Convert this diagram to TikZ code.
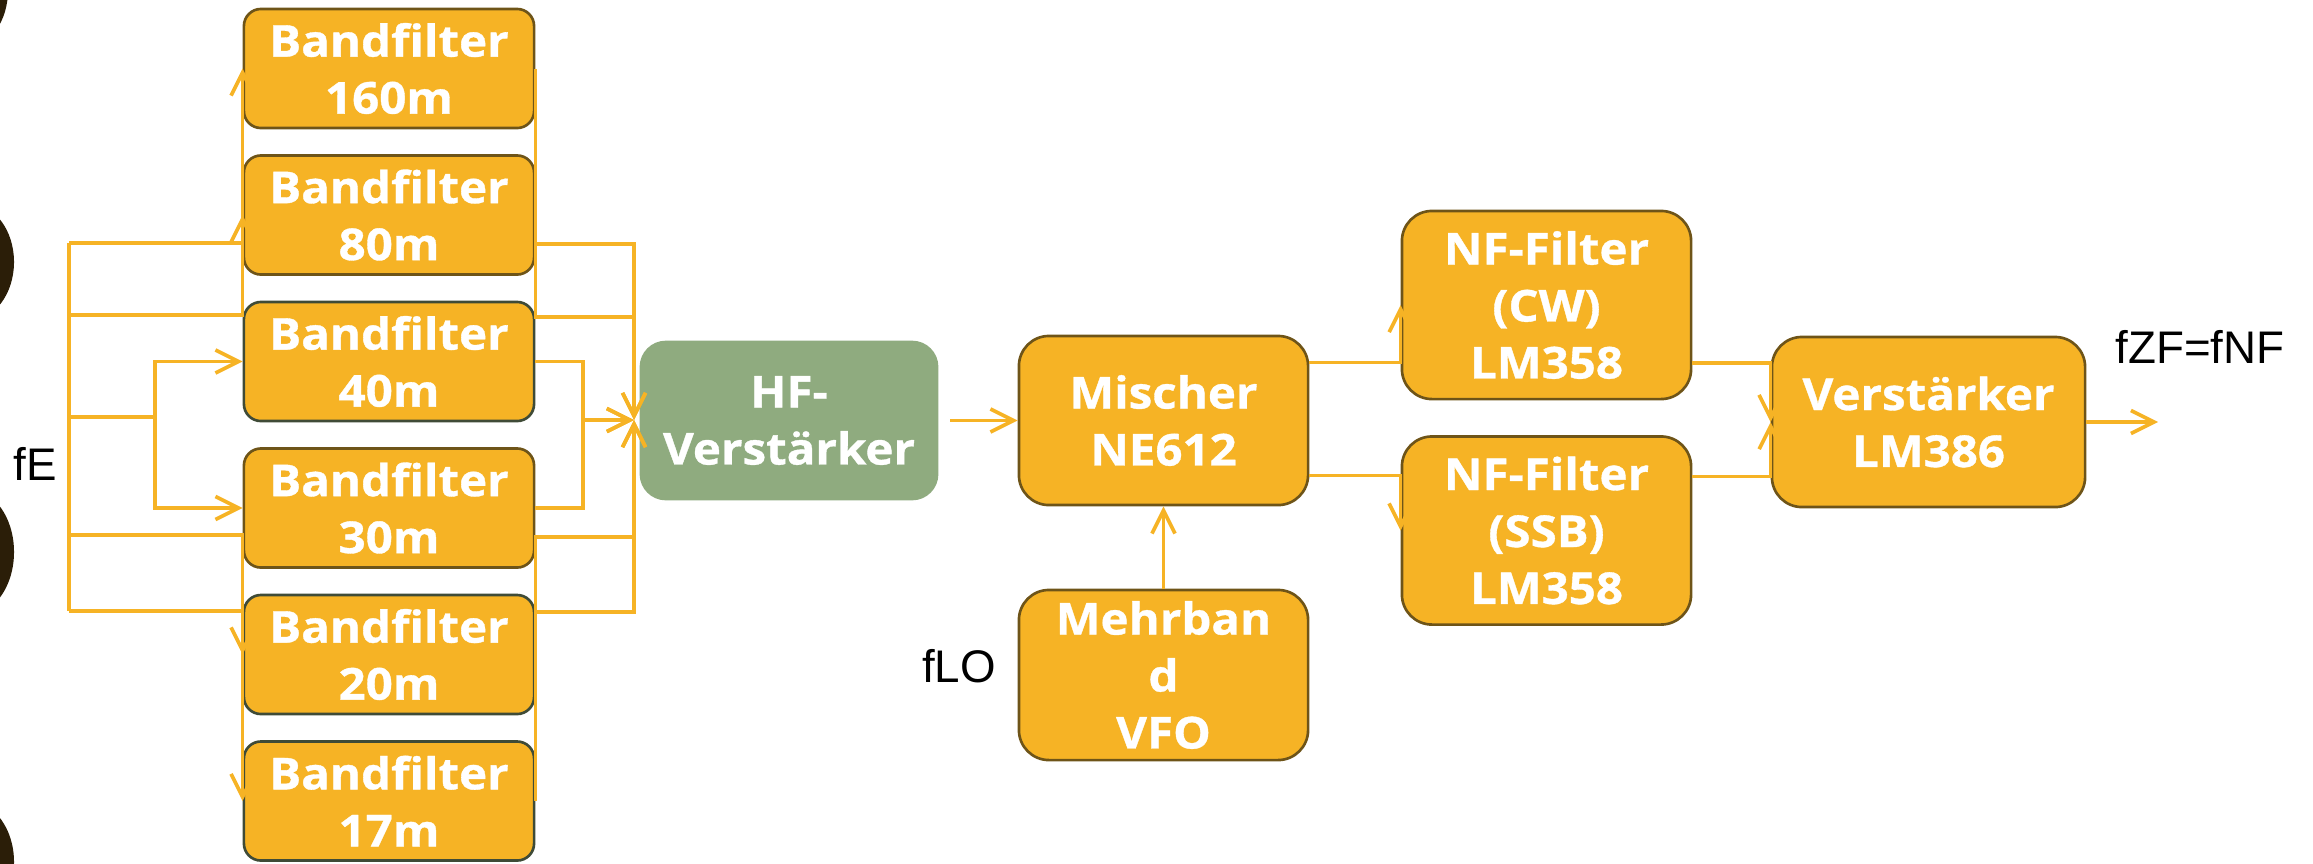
\documentclass[tikz,border=0pt]{standalone}
\usepackage{fontspec}
\usepackage{xcolor}
\usetikzlibrary{arrows.meta, calc, positioning}
\newfontfamily\boxfont{Open Sans}[BoldFeatures={FakeStretch=1.08, FakeBold=0.8}]
\newfontfamily\lblfont{Liberation Sans}
\definecolor{filterorange}{HTML}{F6B325}
\definecolor{rimbrown}{HTML}{6E5418}
\definecolor{rimgrey}{HTML}{3F4B37}
\definecolor{hfgreen}{HTML}{8FAB7F}
\definecolor{edgebrown}{HTML}{2B1E08}

\begin{document}
\begin{tikzpicture}[
    x=0.01cm, y=-0.01cm,
    >={Straight Barb[length=2.3mm,width=2.3mm]},
    every node/.style={align=center, inner sep=0pt},
    block/.style={draw=rimbrown, fill=filterorange, line width=0.75pt,
                  text=white, font=\boxfont\bfseries\fontsize{12.5}{16.2}\selectfont,
                  rounded corners=0.3cm, minimum width=2.89cm},
    bandf/.style={block, rounded corners=0.17cm,
                  minimum width=2.9cm, minimum height=1.19cm},
    greyrim/.style={draw=rimgrey},
    hfbox/.style={block, fill=hfgreen, draw=hfgreen, rounded corners=0.25cm,
                  minimum width=2.96cm, minimum height=1.57cm},
    link/.style={->, draw=filterorange, line width=1.05pt},
    wire/.style={draw=filterorange, line width=1.05pt},
    freq/.style={font=\lblfont\fontsize{13}{15}\selectfont, text=black},
  ]
  \useasboundingbox (0,0) rectangle (2313,863);

  %% --- column x-positions ------------------------------------------------
  \def\xIn{69}      % input bus (fE)
  \def\xSp{155}     % split bus 40m/30m
  \def\xBF{389}     % band filters
  \def\xRm{583}     % merge bus 40m/30m
  \def\xRb{634}     % merge bus into HF amp

  %% --- dark edge shapes (left border) -------------------------------------
  \fill[edgebrown] (-30,-10) ellipse [x radius=0.38cm, y radius=0.55cm];
  \fill[edgebrown] (-30,262) ellipse [x radius=0.44cm, y radius=0.58cm];
  \fill[edgebrown] (-30,552) ellipse [x radius=0.44cm, y radius=0.62cm];
  \fill[edgebrown] (-30,862) ellipse [x radius=0.44cm, y radius=0.6cm];

  %% --- band filters --------------------------------------------------------
  \node[bandf]          (bf160) at (\xBF,68.5)  {Bandfilter\\160m};
  \node[bandf]          (bf80)  at (\xBF,215)   {Bandfilter\\80m};
  \node[bandf, greyrim] (bf40)  at (\xBF,361.5) {Bandfilter\\40m};
  \node[bandf]          (bf30)  at (\xBF,508)   {Bandfilter\\30m};
  \node[bandf, greyrim] (bf20)  at (\xBF,654.5) {Bandfilter\\20m};
  \node[bandf, greyrim] (bf17)  at (\xBF,801)   {Bandfilter\\17m};

  %% --- signal chain --------------------------------------------------------
  \node[hfbox] (hf) at (789,420.5) {HF-\\Verstärker};
  \node[block, minimum height=1.69cm] (mix)   at (1163.5,420.5) {Mischer\\NE612};
  \node[block, minimum height=1.70cm] (vfo)   at (1163.5,675)   {Mehrban\\d\\VFO};
  \node[block, minimum height=1.88cm] (nfcw)  at (1546.5,305)   {NF-Filter\\(CW)\\LM358};
  \node[block, minimum height=1.88cm] (nfssb) at (1546.5,530.5) {NF-Filter\\(SSB)\\LM358};
  \node[block, minimum width=3.13cm, minimum height=1.70cm]
        (amp) at (1928.5,422) {Verstärker\\LM386};

  %% --- frequency labels ----------------------------------------------------
  \node[freq] (fe)  at (35,464)   {fE};
  \node[freq] (flo) at (959,666)  {fLO};
  \node[freq] (fzf) at (2200,347) {fZF=fNF};

  %% --- bus taps ------------------------------------------------------------
  \coordinate (tapA)   at (\xIn,243);
  \coordinate (tapB)   at (\xIn,315);
  \coordinate (tapC)   at (\xIn,417);
  \coordinate (tapD)   at (\xIn,535);
  \coordinate (tapE)   at (\xIn,611);
  \coordinate (splitL) at (\xSp,417);
  \coordinate (hfin)   at (\xRb,420);
  \coordinate (ampout) at (2158,422);

  %% --- arrows --------------------------------------------------------------
  % fE -> band filters
  \draw[wire] (tapA) -- (tapE);
  \draw[link] (tapA) -| (bf80.west);
  \draw[link] (tapB) -| (bf160.west);
  \draw[wire] (tapC) -- (splitL);
  \draw[link] (splitL) |- (bf40.west);
  \draw[link] (splitL) |- (bf30.west);
  \draw[link] (tapD) -| (bf20.west);
  \draw[link] (tapE) -| (bf17.west);

  % band filters -> HF amp
  \draw[link] (bf80.east)  |- (\xRb,244) -- (hfin);
  \draw[link] (bf160.east) |- (\xRb,317) -- (hfin);
  \draw[link] (bf40.east)  -| (\xRm,420) -- (hfin);
  \draw[link] (bf30.east)  -| (\xRm,420) -- (hfin);
  \draw[link] (bf20.east)  |- (\xRb,537) -- (hfin);
  \draw[link] (bf17.east)  |- (\xRb,612) -- (hfin);

  % HF amp -> mixer, VFO -> mixer
  \draw[link, shorten <=0.12cm] (hf) -- (mix);
  \draw[link] (vfo) -- (mix);

  % mixer -> NF filters -> amplifier
  \draw[link] ($(mix.east)+(0,-58)$) -| (nfcw.west);
  \draw[link] ($(mix.east)+(0,55)$)  -| (nfssb.west);
  \draw[link] ($(nfcw.east)+(0,58)$)   -| (amp.west);
  \draw[link] ($(nfssb.east)+(0,-54)$) -| (amp.west);
  \draw[link] (amp) -- (ampout);

\end{tikzpicture}
\end{document}
